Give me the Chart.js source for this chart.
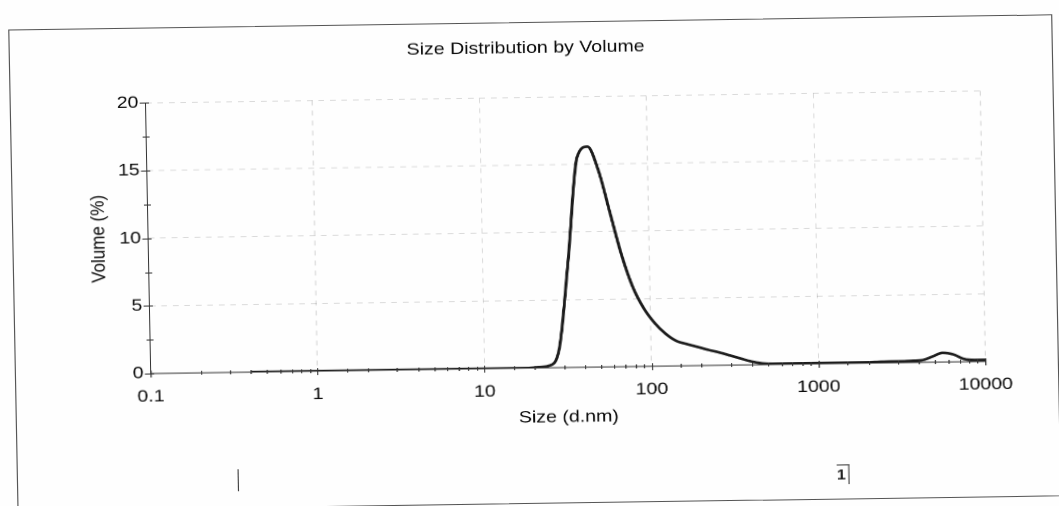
<!DOCTYPE html>
<html>
<head>
<meta charset="utf-8">
<script src="https://cdn.jsdelivr.net/npm/chart.js@4"></script>
<style>
  html, body { margin: 0; padding: 0; background: #fefefe; overflow: hidden; }
  body { width: 1059px; height: 506px; position: relative; }
  #sheet {
    position: absolute; left: 69px; top: 0; width: 921px; height: 506px;
    transform: scaleX(1.15) rotate(-0.96deg); transform-origin: 50% 50%;
  }
  #frame {
    position: absolute; left: 11px; top: 22px; width: 908px; height: 482px;
    border: 1.5px solid #555; box-sizing: border-box;
  }
  #chartJS { position: absolute; left: 0; top: 0; }
  .mark { position: absolute; background: #444; width: 1px; }
  #pageNo {
    position: absolute; left: 724px; top: 469px; padding: 0 2px 0 0;
    font: bold 14px 'Liberation Sans', Arial, sans-serif; color: #222;
    border-top: 1px solid #444; border-right: 1.5px solid #444; line-height: 19px;
  }
</style>
</head>
<body>
<div id="sheet">
  <div id="frame"></div>
  <canvas id="chartJS" width="921" height="506"></canvas>
  <div class="mark" style="left:203px; top:465px; height:22px;"></div>
  <span id="pageNo">1</span>
</div>
<script>
// size bins (d.nm) and volume (%) per bin
const sizes = [0.4, 0.4632, 0.5365, 0.6213, 0.7195, 0.8332, 0.9649, 1.117, 1.294, 1.499,
    1.736, 2.01, 2.328, 2.696, 3.122, 3.615, 4.187, 4.849, 5.615, 6.503,
    7.531, 8.721, 10.1, 11.7, 13.54, 15.69, 18.17, 21.04, 24.36, 28.21,
    32.67, 37.84, 43.82, 50.75, 58.77, 68.06, 78.82, 91.28, 105.7, 122.4,
    141.8, 164.2, 190.1, 220.2, 255.0, 295.3, 342.0, 396.1, 458.7, 531.2,
    615.1, 712.4, 825.0, 955.4, 1106, 1281, 1484, 1718, 1990, 2305,
    2669, 3091, 3580, 4145, 4801, 5560, 6439, 7456, 8635, 10000]
const volumes = [0, 0, 0, 0, 0, 0, 0, 0, 0, 0,
    0, 0, 0, 0, 0, 0, 0, 0, 0, 0,
    0, 0, 0, 0, 0, 0, 0, 0.05, 0.15, 1.4,
    8.0, 15.5, 16.3, 14.5, 11.4, 8.3, 5.9, 4.3, 3.2, 2.4,
    1.85, 1.6, 1.38, 1.15, 0.95, 0.72, 0.48, 0.25, 0.1, 0.05,
    0.05, 0.05, 0.05, 0.05, 0.05, 0.05, 0.05, 0.05, 0.05, 0.08,
    0.1, 0.1, 0.12, 0.15, 0.4, 0.68, 0.55, 0.2, 0.12, 0.12]
const decades = [0.1, 1, 10, 100, 1000, 10000]
const yLabels = [0, 5, 10, 15, 20]

const fonte = { family: "'Liberation Sans', Arial, sans-serif", size: 17 }
const corTexto = '#0a0a0a'
const cinzaGrade = 'rgba(0,0,0,0.14)'

function ehDecada(v) {
    return decades.some(d => Math.abs(v - d) / d < 1e-6)
}

// small ticks crossing both axes
const crossTicks = {
    id: 'crossTicks',
    afterDraw(chart) {
        const { ctx, scales: { x, y } } = chart
        ctx.save()
        ctx.strokeStyle = '#333'
        ctx.lineWidth = 1
        ctx.beginPath()
        y.ticks.forEach(t => {
            const py = Math.round(y.getPixelForValue(t.value)) + 0.5
            const major = yLabels.includes(t.value)
            ctx.moveTo(x.left - (major ? 5 : 3), py)
            ctx.lineTo(x.left + 3, py)
        })
        x.ticks.forEach(t => {
            const px = Math.round(x.getPixelForValue(t.value)) + 0.5
            const major = ehDecada(t.value)
            ctx.moveTo(px, y.bottom - (major ? 3 : 2))
            ctx.lineTo(px, y.bottom + (major ? 4 : 2))
        })
        ctx.stroke()
        ctx.restore()
    }
}

const meuchart = document.getElementById('chartJS')

const data = {
    datasets: [{
        label: 'Volume',
        data: sizes.map((s, i) => ({ x: s, y: volumes[i] })),
        borderColor: '#1c1c1c',
        borderWidth: 2.6,
        pointRadius: 0,
        cubicInterpolationMode: 'monotone',
        fill: false,
    }]
}

const config = {
    type: 'line',
    data: data,
    plugins: [crossTicks],
    options: {
        responsive: false,
        animation: false,
        devicePixelRatio: 2,
        layout: { padding: 0 },
        plugins: {
            legend: { display: false },
            tooltip: { enabled: false },
            title: {
                display: true,
                text: 'Size Distribution by Volume',
                color: corTexto,
                font: { ...fonte, weight: 'normal' },
                padding: { top: 38, bottom: 39 },
            },
        },
        scales: {
            x: {
                type: 'logarithmic',
                min: 0.1,
                max: 10000,
                afterFit(scale) { scale.height = 138 },
                grid: {
                    color: ctx => (ctx.tick && ehDecada(ctx.tick.value) && ctx.tick.value > 0.1) ? cinzaGrade : 'transparent',
                    drawTicks: false,
                },
                border: { display: true, color: '#333', width: 1, dash: [5, 5] },
                ticks: {
                    autoSkip: false,
                    maxRotation: 0,
                    padding: 13,
                    color: corTexto,
                    font: fonte,
                    callback: v => ehDecada(v) ? String(v) : '',
                },
                title: {
                    display: true,
                    text: 'Size (d.nm)',
                    color: corTexto,
                    font: fonte,
                    padding: { top: 0, bottom: 78 },
                },
            },
            y: {
                min: 0,
                max: 20,
                afterFit(scale) { scale.width = 129 },
                grid: {
                    color: ctx => (ctx.tick && ctx.tick.value > 0 && yLabels.includes(ctx.tick.value)) ? cinzaGrade : 'transparent',
                    drawTicks: false,
                },
                border: { display: true, color: '#333', width: 1, dash: [5, 5] },
                ticks: {
                    stepSize: 2.5,
                    padding: 6,
                    color: corTexto,
                    font: fonte,
                    callback: v => yLabels.includes(v) ? String(v) : '',
                },
                title: {
                    display: true,
                    text: 'Volume (%)',
                    color: corTexto,
                    font: fonte,
                    padding: { top: 76, bottom: 0 },
                },
            },
            // empty right-hand axis, only reserves the margin to the right of the plot
            margem: {
                position: 'right',
                min: 0,
                max: 20,
                afterFit(scale) { scale.width = 66 },
                grid: { display: false },
                border: { display: false },
                ticks: { display: false },
            },
        },
    },
}

const chart = new Chart(meuchart, config)
</script>
</body>
</html>
